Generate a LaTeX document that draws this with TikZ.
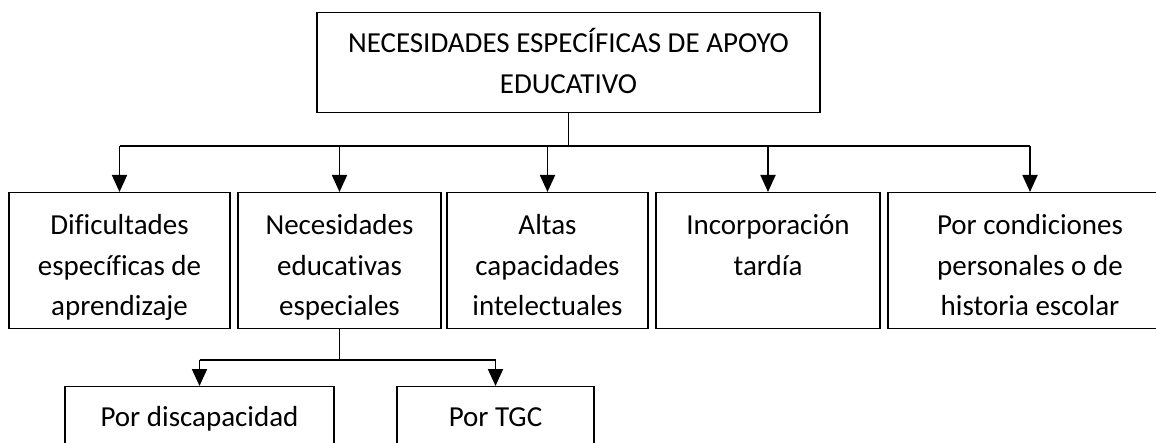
\documentclass[tikz,border=0pt]{standalone}
\usepackage{fontspec}
\setmainfont[Ligatures=CommonOff]{Carlito}
\usetikzlibrary{arrows.meta}

\begin{document}
\begin{tikzpicture}
		[   x=1pt,y=-1pt,
		    caja/.style={draw=black,line width=1.3pt,anchor=north,align=flush center,inner sep=0pt,text width=#1,text height=42pt,text depth=94pt,font=\fontsize{29}{40.5}\selectfont},
		]
		\tikzset{flecha/.style={draw,line width=1.8pt,-{Triangle[width=15pt,length=17pt]}}}
		\useasboundingbox (0,0) rectangle (1156,443);
		\clip (0,0) rectangle (1156,443);
		
		\node[caja=503pt,text height=40pt,text depth=60pt] (top) at (568.5,12) {NECESIDADES ESPECÍFICAS DE APOYO\\EDUCATIVO};
		
		\node[caja=221pt] (b1) at (119.5,192) {Dificultades\\específicas de\\aprendizaje};
		\node[caja=203pt] (b2) at (339.5,192) {Necesidades\\educativas\\especiales};
		\node[caja=201pt] (b3) at (547.5,192) {Altas\\capacidades\\intelectuales};
		\node[caja=224pt] (b4) at (768,192) {Incorporación\\tardía};
		\node[caja=284pt] (b5) at (1030,192) {Por condiciones\\personales o de\\historia escolar};
		
		\node[caja=269pt,text height=40pt,text depth=40pt] (b6) at (199.5,386) {Por discapacidad};
		\node[caja=197pt,text height=40pt,text depth=40pt] (b7) at (495.5,386) {Por TGC};
		
		\coordinate (ramal) at (568.5,146);
		\coordinate (ramal-2) at (339.5,360);
		
		\draw[line width=1.4pt] (top.south) -- (ramal);
		\draw[line width=1.4pt] (b1.north |- ramal) -- (b5.north |- ramal);
		\foreach \x in {1,...,5}
		{
			\path[flecha] (b\x.north |- ramal) -- (b\x.north);
		}
		
		\draw[line width=1.4pt] (b2.south) -- (ramal-2);
		\draw[line width=1.4pt] (b6.north |- ramal-2) -- (b7.north |- ramal-2);
		\foreach \x in {6,7}
		{
			\path[flecha] (b\x.north |- ramal-2) -- (b\x.north);
		}
\end{tikzpicture}
\end{document}
